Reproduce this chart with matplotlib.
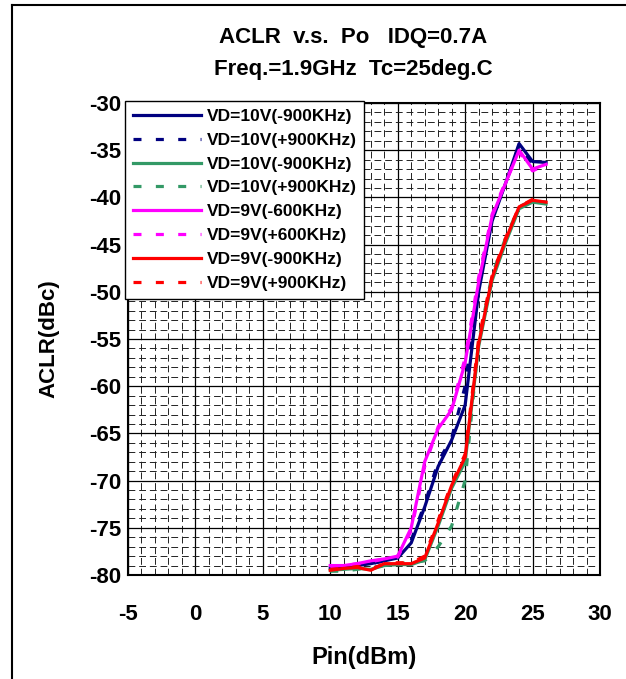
import matplotlib
matplotlib.use('Agg')
import matplotlib.pyplot as plt
from matplotlib.lines import Line2D
import numpy as np

plt.rcParams['font.family'] = ['Liberation Sans', 'DejaVu Sans']
plt.rcParams['font.weight'] = 'bold'
plt.rcParams['axes.unicode_minus'] = False

pin = [10, 11, 12, 13, 14, 15, 16, 17, 18, 19, 20, 21, 22, 23, 24, 25, 26]

vd10_m900 = [-79.2, -79.2, -79.0, -78.8, -78.5, -78.2, -76.6, -72.8, -68.5, -65.7, -62.0, -50.0, -42.5, -38.5, -34.3, -36.2, -36.3]
vd10_p900 = [-79.3, -79.3, -79.0, -78.8, -78.5, -78.0, -76.3, -72.5, -68.0, -65.5, -60.0, -49.0, -42.0, -38.5, -34.5, -36.5, -36.3]
vd10b_m900 = [-79.5, -79.4, -79.3, -79.4, -79.0, -78.9, -78.9, -78.4, -74.8, -70.8, -68.0, -55.8, -48.8, -44.8, -41.2, -40.5, -40.7]
vd10b_p900 = [-79.6, -79.6, -79.4, -79.2, -79.0, -78.8, -78.7, -78.5, -77.0, -74.8, -70.0, -55.2, -48.2, -44.3, -41.0, -40.3, -40.5]
vd9_m600 = [-79.0, -79.0, -78.8, -78.5, -78.3, -78.0, -75.0, -68.0, -64.5, -62.5, -57.5, -49.0, -42.0, -38.5, -35.0, -37.0, -36.5]
vd9_p600 = [-79.1, -79.0, -78.8, -78.6, -78.3, -78.1, -75.3, -68.5, -64.3, -62.3, -57.0, -48.5, -41.8, -38.3, -35.2, -37.2, -36.5]
vd9_m900 = [-79.5, -79.3, -79.2, -79.5, -78.8, -78.8, -78.8, -78.2, -74.5, -70.5, -67.5, -55.5, -48.5, -44.5, -41.0, -40.3, -40.5]
vd9_p900 = [-79.4, -79.3, -79.1, -79.4, -78.8, -78.7, -78.7, -78.0, -74.2, -70.3, -67.2, -55.0, -48.3, -44.3, -41.0, -40.2, -40.4]

series = [
    ('VD=10V(-900KHz)', vd10_m900, '#000080', '-'),
    ('VD=10V(+900KHz)', vd10_p900, '#000080', '--'),
    ('VD=10V(-900KHz)', vd10b_m900, '#339966', '-'),
    ('VD=10V(+900KHz)', vd10b_p900, '#339966', '--'),
    ('VD=9V(-600KHz)', vd9_m600, '#FF00FF', '-'),
    ('VD=9V(+600KHz)', vd9_p600, '#FF00FF', '--'),
    ('VD=9V(-900KHz)', vd9_m900, '#FF0000', '-'),
    ('VD=9V(+900KHz)', vd9_p900, '#FF0000', '--'),
]

fig = plt.figure(figsize=(6.26, 6.79), dpi=100)
ax = fig.add_axes([128 / 626, 1 - 575 / 679, 472 / 626, 472 / 679])

for label, vals, color, ls in series:
    if ls == '--':
        ax.plot(pin, vals, color=color, lw=2.3, linestyle=(0, (2.5, 4.5)), label=label)
    else:
        ax.plot(pin, vals, color=color, lw=2.3, label=label)

ax.set_xlim(-5, 30)
ax.set_ylim(-80, -30)
ax.set_xticks(np.arange(-5, 31, 5))
ax.set_yticks(np.arange(-80, -29, 5))
ax.set_xticks(np.arange(-5, 31, 1), minor=True)
ax.set_yticks(np.arange(-80, -29, 1), minor=True)
ax.grid(which='major', color='black', lw=0.9)
ax.grid(which='minor', color='#222222', lw=0.7, linestyle=(0, (7, 4)))
ax.set_axisbelow(True)
ax.tick_params(which='both', length=0)
ax.tick_params(axis='x', labelsize=16, pad=21)
ax.tick_params(axis='y', labelsize=16, pad=5)
for sp in ax.spines.values():
    sp.set_linewidth(1.5)

ax.set_xlabel('Pin(dBm)', fontsize=17, fontweight='bold', labelpad=15)
ax.set_ylabel('ACLR(dBc)', fontsize=16, fontweight='bold', labelpad=21)

fig.text(353 / 626, 1 - 38 / 679, 'ACLR  v.s.  Po   IDQ=0.7A', ha='center', va='center',
         fontsize=16, fontweight='bold')
fig.text(353 / 626, 1 - 70 / 679, 'Freq.=1.9GHz  Tc=25deg.C', ha='center', va='center',
         fontsize=16, fontweight='bold')

leg = ax.legend(loc='upper left', bbox_to_anchor=(125 / 626, 1 - 101 / 679),
                bbox_transform=fig.transFigure, borderaxespad=0, fancybox=False,
                framealpha=1, edgecolor='black', fontsize=12.5, handlelength=3.9,
                labelspacing=0.5, handletextpad=0.35, borderpad=0.45)
leg.get_frame().set_linewidth(1.0)

# outer frame, only top and left visible
fig.add_artist(Line2D([12 / 626, 12 / 626], [0, 1 - 5 / 679], color='black', lw=1.5,
                      transform=fig.transFigure))
fig.add_artist(Line2D([12 / 626, 1], [1 - 5 / 679, 1 - 5 / 679], color='black', lw=1.5,
                      transform=fig.transFigure))

fig.savefig('out.png', dpi=100)
